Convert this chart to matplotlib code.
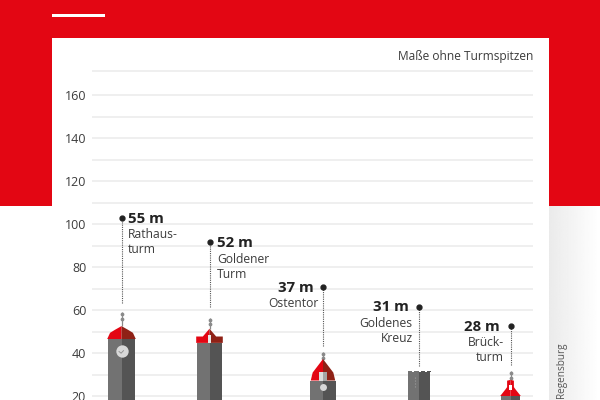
import numpy as np
import matplotlib
matplotlib.use("Agg")
import matplotlib.pyplot as plt
from matplotlib.patches import Polygon, Rectangle

plt.rcParams['font.family'] = ['Open Sans', 'DejaVu Sans']

names = ["Rathaus-\nturm", "Goldener\nTurm", "Ostentor", "Goldenes\nKreuz", "Brück-\nturm"]
labels = ["55 m", "52 m", "37 m", "31 m", "28 m"]
x_pos = [121.5, 209.5, 323, 419, 510.5]
body_top = [46.5, 44.7, 27.2, 31.0, 20.0]
roof_top = [52.5, 51.3, 37.2, 31.0, 27.5]
spire_top = [59.0, 56.5, 40.5, 31.0, 31.5]
dot_val = [102.8, 91.4, 70.7, 61.6, 52.6]
line_end = [63.3, 61.4, 43.3, 34.0, 34.4]
grid_levels = [20, 30, 40, 50, 60, 70, 80, 90, 100, 110, 120, 130, 140, 150, 160, 171]
tick_vals = [20, 40, 60, 80, 100, 120, 140, 160]

RED = "#e30613"
DRED = "#8f2116"
LG = "#727272"
DG = "#545454"
INK = "#222222"
TXT = "#3c3c3c"

fig = plt.figure(figsize=(6, 4), dpi=100)
bg = fig.add_axes([0, 0, 1, 1], zorder=0)
bg.set_xlim(0, 600); bg.set_ylim(400, 0); bg.axis("off")
grad = np.linspace(0.92, 1.0, 64)[None, :]
bg.imshow(grad, extent=[549, 600, 400, 206], cmap="gray", vmin=0, vmax=1, aspect="auto", zorder=1)
bg.set_xlim(0, 600); bg.set_ylim(400, 0)
bg.add_patch(Rectangle((0, 0), 600, 206, color=RED, lw=0, zorder=2))
bg.add_patch(Rectangle((52, 38), 497, 362, color="white", lw=0, zorder=3))
bg.add_patch(Rectangle((52, 14.2), 53, 2.4, color="white", lw=0, zorder=3))
bg.text(561.5, 398, "Regensburg", rotation=90, ha="center", va="bottom", fontsize=7.2, color="#555555", zorder=4)

ax = fig.add_axes([92/600, 0, (533-92)/600, 1], zorder=2)
ax.patch.set_alpha(0)
ax.set_xlim(92, 533)
ax.set_ylim(20 - 4/2.15, 20 + 396/2.15)
for s in ax.spines.values():
    s.set_visible(False)
ax.set_xticks([])
ax.set_yticks(tick_vals)
ax.set_yticklabels([str(v) for v in tick_vals], fontsize=9, color=TXT)
ax.tick_params(axis="y", length=0, pad=4.2)
ax.hlines(grid_levels, 92, 533, color="#ebebeb", lw=1.1, zorder=1)

half = [13.5, 12.5, 12.8, 11, 9.5]
for i, x in enumerate(x_pos):
    h = half[i]; bt = body_top[i]; rt = roof_top[i]; st = spire_top[i]
    ax.add_patch(Rectangle((x-h, 0), h, bt, color=LG, lw=0, zorder=3))
    ax.add_patch(Rectangle((x, 0), h, bt, color=DG, lw=0, zorder=3))
    if i == 3:
        for k in range(4):
            ax.add_patch(Rectangle((x-h+k*h*2/3.5, bt), h*0.4, 0.8, color=LG if k < 2 else DG, lw=0, zorder=3))
        ax.vlines(x-4, 24, 29, color="#9a9a9a", lw=0.8, linestyles=":", zorder=4)
        continue
    ax.vlines(x, rt, st, color="#8a8a8a", lw=0.9, zorder=2)
    ax.plot([x, x], [st-1, st-3], ls="none", marker="o", ms=1.7, color="#8a8a8a", zorder=2)
    d = rt - bt
    w = h + 0.8
    if i == 0:
        l = [(x-w, bt), (x-w*0.8, bt+d*0.48), (x-w*0.45, bt+d*0.72), (x, rt), (x, bt)]
    elif i == 1:
        l = [(x-w, bt), (x-w, bt+d*0.45), (x-w*0.5, bt+d*0.45), (x, rt), (x, bt)]
    elif i == 2:
        l = [(x-w*0.9, bt), (x-w*0.76, bt+d*0.37), (x, rt), (x, bt)]
    else:
        l = [(x-w, bt), (x-w*0.5, bt+d*0.4), (x-w*0.33, bt+d*0.55), (x-w*0.33, bt+d*0.95), (x, rt), (x, bt)]
    r = [(2*x-a, b) for a, b in l]
    ax.add_patch(Polygon(l, color=RED, lw=0, zorder=4))
    ax.add_patch(Polygon(r, color=DRED if i != 4 else RED, lw=0, zorder=4))
    if i == 0:
        ax.plot([x], [bt-5.8], marker="o", ms=8.9, mfc="#d8d8d8", mec="none", zorder=5)
        ax.plot([x-2.5, x-0.4, x+2], [bt-5.8, bt-6.6, bt-5.4], color="#8a8a8a", lw=0.6, zorder=6)
    if i == 1:
        ax.add_patch(Rectangle((x-1.6, bt), 3.2, 3.6, color="#e8e8e8", lw=0, zorder=5))
    if i == 2:
        ax.add_patch(Rectangle((x-4, bt), 4, 3.8, color="#dcdcdc", lw=0, zorder=5))
        ax.add_patch(Rectangle((x, bt), 4, 3.8, color="#a5a5a5", lw=0, zorder=5))
        ax.plot([x], [bt-3], marker="o", ms=5, mfc="#d8d8d8", mec="none", zorder=5)
    if i == 4:
        ax.add_patch(Rectangle((x-1.8, bt+3), 3.6, 2.2, color="white", lw=0, zorder=5))

ax.vlines(x_pos, line_end, dot_val, color="#555555", lw=0.8, linestyles=(0, (1, 1)), zorder=5)
ax.plot(x_pos, dot_val, ls="none", marker="o", ms=3.5, color=INK, zorder=6)

head_dx = [6.5, 7.5, -9, -10, -10.5]
name_dx = [6.5, 7.5, -4, -6.5, -6.5]
aligns = ["left", "left", "right", "right", "right"]
for i, x in enumerate(x_pos):
    ax.annotate(labels[i], (x, dot_val[i]), xytext=(head_dx[i]*0.72, -0.8*0.72), textcoords="offset points",
                ha=aligns[i], va="center", fontsize=10.8, fontweight="bold", color=INK)
    ax.annotate(names[i], (x, dot_val[i]), xytext=(name_dx[i]*0.72, -10.5*0.72), textcoords="offset points",
                ha=aligns[i], va="top", fontsize=8.7, color=TXT, linespacing=1.2, multialignment=aligns[i])

bg.text(533, 56.5, "Maße ohne Turmspitzen", ha="right", va="center", fontsize=8.6, color=TXT, zorder=5)

fig.savefig("out.png", dpi=100)
